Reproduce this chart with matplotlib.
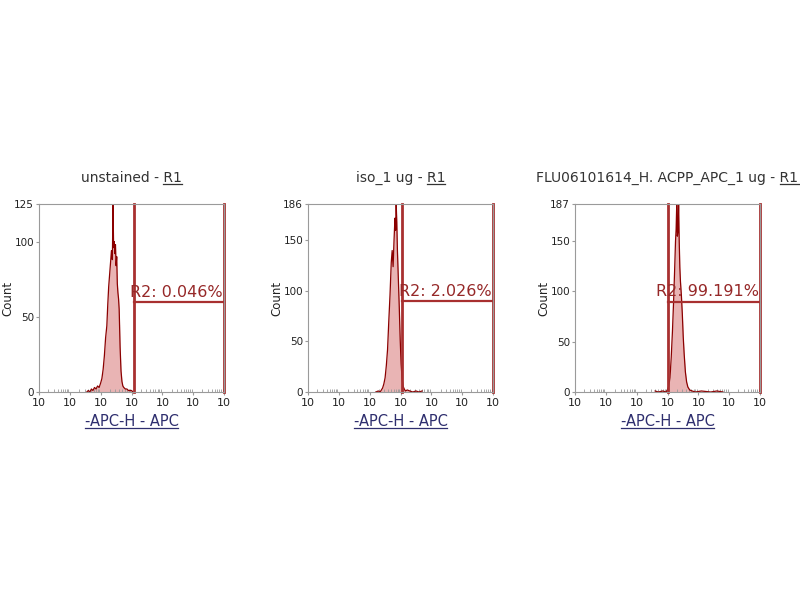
import matplotlib
matplotlib.use("Agg")
import matplotlib.pyplot as plt
import numpy as np
from matplotlib.ticker import FixedLocator, FuncFormatter
from matplotlib.lines import Line2D

# panel titles (the "R1" part is underlined in the original)
titles = ["unstained - R1", "iso_1 ug - R1", "FLU06101614_H. ACPP_APC_1 ug - R1"]
gate_labels = ["R2: 0.046%", "R2: 2.026%", "R2: 99.191%"]
y_max = [125, 186, 187]
y_ticks = [[0, 50, 100, 125], [0, 50, 100, 150, 186], [0, 50, 100, 150, 187]]

# histogram positions in decades (log10 of APC-H) and counts
unst_x = [1.55, 1.60, 1.65, 1.70, 1.75, 1.80, 1.85, 1.90, 1.95, 2.00,
          2.04, 2.08, 2.12, 2.16, 2.20, 2.23, 2.26, 2.29, 2.32, 2.35,
          2.38, 2.40, 2.42, 2.44, 2.46, 2.48, 2.50, 2.52, 2.54, 2.56,
          2.58, 2.60, 2.63, 2.66, 2.69, 2.72, 2.75, 2.80, 2.85, 2.90,
          2.95, 3.00, 3.05]
unst_y = [0, 1, 0, 2, 1, 3, 2, 4, 3, 6,
          9, 15, 24, 36, 44, 58, 70, 78, 86, 94,
          88, 125, 96, 100, 92, 98, 84, 90, 72, 66,
          62, 55, 30, 14, 7, 4, 3, 2, 2, 1,
          1, 1, 0]

iso_x = [2.20, 2.28, 2.34, 2.38, 2.42, 2.46, 2.50, 2.54, 2.58, 2.62,
         2.66, 2.70, 2.73, 2.76, 2.79, 2.82, 2.84, 2.86, 2.88, 2.90,
         2.93, 2.96, 2.99, 3.02, 3.05, 3.08, 3.12, 3.16, 3.22, 3.30,
         3.40, 3.50, 3.60, 3.70]
iso_y = [0, 1, 0, 2, 4, 8, 14, 26, 42, 70,
         96, 128, 140, 124, 150, 172, 160, 186, 168, 140,
         112, 84, 52, 28, 14, 6, 3, 1, 2, 1,
         0, 1, 0, 1]

acpp_x = [2.60, 2.70, 2.85, 2.95, 3.00, 3.04, 3.08, 3.12, 3.16, 3.20,
          3.23, 3.26, 3.28, 3.30, 3.32, 3.34, 3.36, 3.38, 3.40, 3.42,
          3.45, 3.48, 3.51, 3.54, 3.58, 3.62, 3.66, 3.72, 3.80, 3.90,
          4.10, 4.40, 4.60, 4.80]
acpp_y = [1, 0, 1, 0, 2, 6, 14, 34, 60, 92,
          120, 150, 162, 187, 155, 160, 187, 150, 124, 110,
          96, 78, 55, 38, 20, 10, 5, 2, 1, 0,
          1, 0, 1, 0]

hist_x = [unst_x, iso_x, acpp_x]
hist_y = [unst_y, iso_y, acpp_y]

# R2 gate: left edge, right edge (decades), marker level (count)
gate_left = [3.07, 3.06, 3.03]
gate_right = [6.0, 6.0, 6.0]
gate_level = [60, 90, 90]

gate_col = "#a83030"
hist_col = "#8b0000"
frame_col = "#9a9a9a"

fig = plt.figure(figsize=(8, 6), dpi=100)
lefts = [39, 308, 575]
axes = []
for i in range(3):
    ax = fig.add_axes([lefts[i] / 800, (600 - 392) / 600, 185 / 800, 188 / 600])
    axes.append(ax)
    x = 10 ** np.array(hist_x[i])
    ax.fill_between(x, hist_y[i], color="#c02828", alpha=0.35, lw=0)
    ax.plot(x, hist_y[i], color=hist_col, lw=0.9)

    gl, gr, lv = 10 ** gate_left[i], 10 ** gate_right[i], gate_level[i]
    ax.plot([gl, gl], [0, y_max[i]], color=gate_col, lw=2.0, clip_on=False)
    ax.plot([gr, gr], [0, y_max[i]], color=gate_col, lw=2.0, clip_on=False)
    ax.plot([gl, gr], [lv, lv], color=gate_col, lw=1.6, clip_on=False)
    ax.text(gr * 0.92, lv + y_max[i] * 0.012, gate_labels[i], ha="right", va="bottom",
            fontsize=11.5, color="#962828")

    ax.set_xscale("log")
    ax.set_xlim(1, 1e6)
    ax.set_ylim(0, y_max[i])
    ax.xaxis.set_major_locator(FixedLocator([10 ** k for k in range(7)]))
    ax.xaxis.set_major_formatter(FuncFormatter(lambda v, p: "10"))
    ax.xaxis.set_minor_locator(FixedLocator([m * 10 ** k for k in range(6) for m in range(2, 10)]))
    ax.xaxis.set_minor_formatter(FuncFormatter(lambda v, p: ""))
    ax.set_yticks(y_ticks[i])
    ax.tick_params(axis="both", which="major", labelsize=7.5, length=2.5, color=frame_col,
                   labelcolor="#222222", pad=1)
    ax.tick_params(axis="x", labelsize=8, pad=2)
    ax.tick_params(axis="x", which="minor", length=2, direction="in", color=frame_col)
    for s in ["top", "left", "bottom", "right"]:
        ax.spines[s].set_color(frame_col)
        ax.spines[s].set_linewidth(0.8)

    ax.set_title(titles[i], fontsize=10, color="#333333", pad=16)
    ax.set_xlabel("-APC-H - APC", fontsize=10.5, color="#2e2e6e", labelpad=4)
    ax.set_ylabel("Count", fontsize=8.5, color="#222222")
    ax.yaxis.set_label_coords(-0.134, 0.5)

# underlines: "R1" in titles and the whole x label
fig.canvas.draw()
r = fig.canvas.get_renderer()


def underline(x0, x1, y, color):
    fig.add_artist(Line2D([x0 / 800, x1 / 800], [y / 600, y / 600], color=color, lw=0.9))


for ax in axes:
    tb = ax.title.get_window_extent(r)
    tmp = fig.text(0, 0, "R1", fontsize=10)
    w = tmp.get_window_extent(r).width
    tmp.remove()
    underline(tb.x1 - w, tb.x1, tb.y0 + 1, "#333333")
    lb = ax.xaxis.label.get_window_extent(r)
    underline(lb.x0, lb.x1, lb.y0 + 1, "#2e2e6e")

fig.savefig("out.png", dpi=100)
